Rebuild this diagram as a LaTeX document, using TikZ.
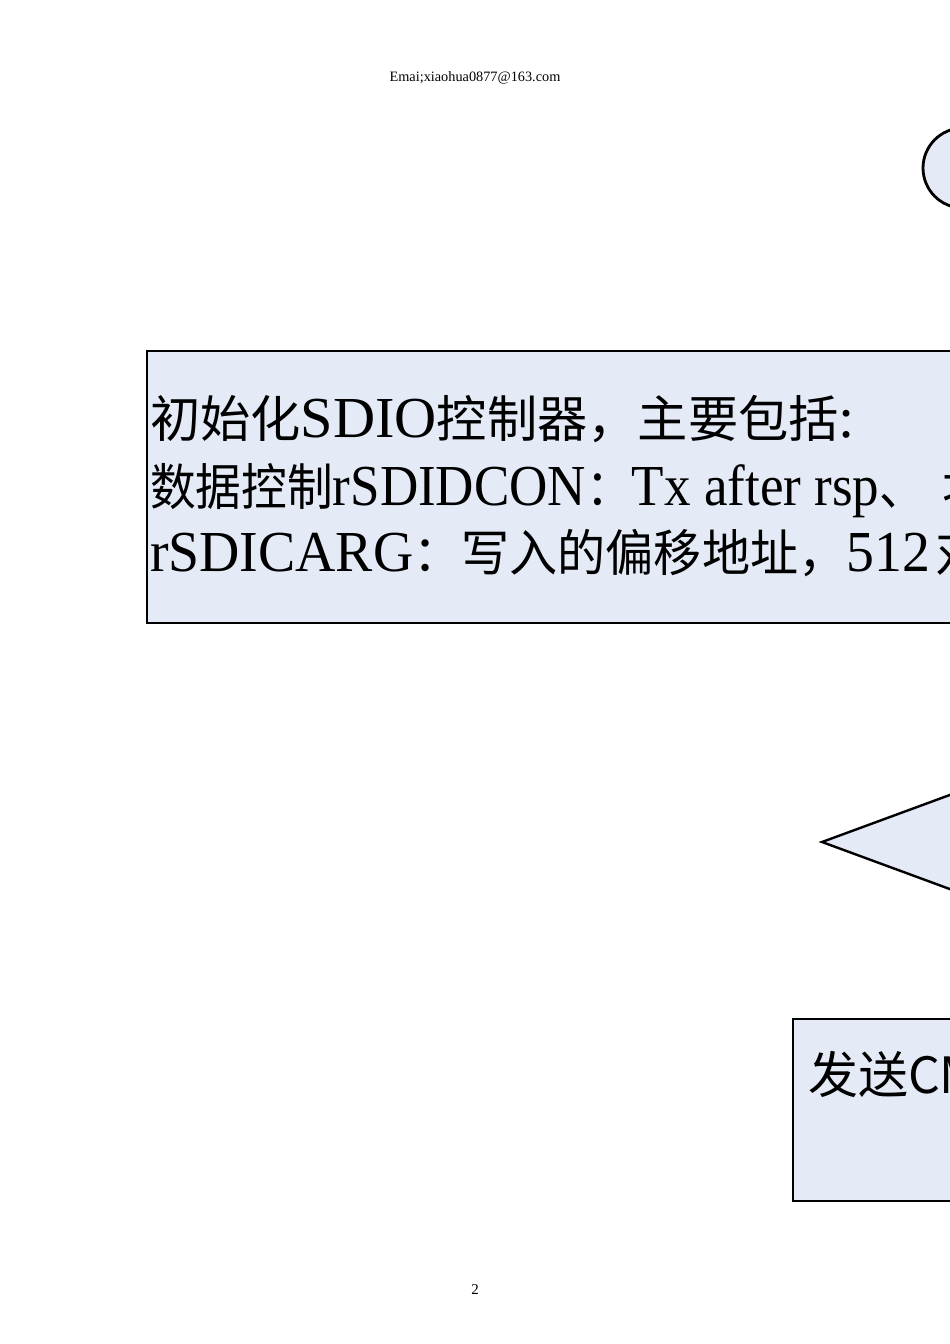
\documentclass[tikz,border=0pt]{standalone}
\usepackage{fontspec}
\usepackage{graphicx}
\setmainfont{Liberation Serif}
\newfontfamily\cjk{Noto Sans CJK SC}
\newfontfamily\latf{Liberation Serif}
\newcommand{\cj}[1]{{\cjk\fontsize{50}{56}\selectfont #1}}
\newcommand{\la}[1]{{\latf\fontsize{58}{60}\selectfont #1}}
\definecolor{boxfill}{RGB}{228,234,246}
\tikzset{
  shapebox/.style={draw=black, line width=2.8pt, fill=boxfill},
  txt/.style={anchor=base west, inner sep=0pt, outer sep=0pt},
}
\begin{document}
\begin{tikzpicture}[x=1pt,y=-1pt]
\useasboundingbox[fill=white] (0,0) rectangle (950,1344);
\clip (0,0) rectangle (950,1344);
% header and page number
\node[inner sep=0pt, font=\fontsize{14.3}{16}\selectfont] (hdr) at (475,78) {Emai;xiaohua0877@163.com};
\node[inner sep=0pt, font=\fontsize{15}{17}\selectfont] (pgno) at (475,1290) {2};
% start terminal
\draw[shapebox, rounded corners=40pt] (923,128) rectangle (1140,208);
\coordinate (start) at (1030,168);
% init box
\draw[shapebox] (147,351) rectangle (1100,623);
\node[txt] (l1) at (150,437) {\resizebox{705pt}{\height}{\cj{初始化}\la{SDIO}\cj{控制器，主要包括}\la{:}}};
\node[txt] (l2) at (150,505) {\resizebox{775pt}{\height}{\cj{数据控制}\la{rSDIDCON}\cj{：}\la{Tx after rsp}\cj{、}}};
\node[txt] (l2t) at (942,505) {\cj{块传输}};
\node[txt] (l3) at (150,571) {\resizebox{780pt}{\height}{\la{rSDICARG}\cj{：写入的偏移地址，}\la{512}}};
\node[txt] (l3t) at (935,571) {\cj{对齐}};
% decision diamond
\draw[shapebox, line width=2.4pt] (822,842) -- (1072,750) -- (1322,842) -- (1072,934) -- cycle;
% send box
\draw[shapebox] (793,1019) rectangle (1200,1201);
\node[txt] (s1) at (808,1093) {\cj{发送CMD24}};
\end{tikzpicture}
\end{document}
